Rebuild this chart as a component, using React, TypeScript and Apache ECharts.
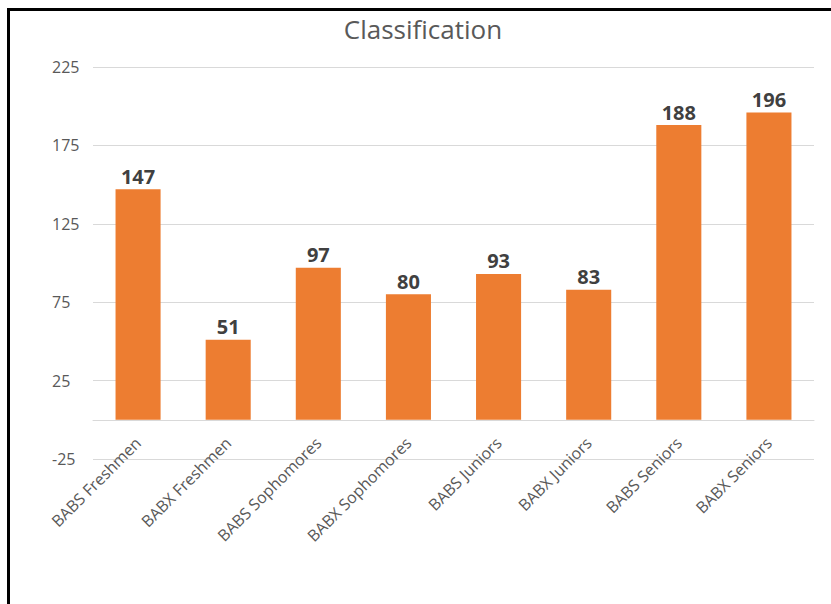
import React, { useEffect, useRef } from "react";
import * as echarts from "echarts";

const categories = [
  "BABS Freshmen",
  "BABX Freshmen",
  "BABS Sophomores",
  "BABX Sophomores",
  "BABS Juniors",
  "BABX Juniors",
  "BABS Seniors",
  "BABX Seniors",
];
const values = [147, 51, 97, 80, 93, 83, 188, 196];
const yMin = -25;
const yMax = 225;
const yInterval = 50;

export default function App() {
  const ref = useRef<HTMLDivElement>(null);
  useEffect(() => {
    if (!ref.current) return;
    const chart = echarts.init(ref.current, undefined, { renderer: "svg" });
    const font = "'Open Sans', 'Liberation Sans', sans-serif";
    chart.setOption({
      animation: false,
      backgroundColor: "#ffffff",
      title: {
        text: "Classification",
        left: 423,
        textAlign: "center",
        top: 16,
        padding: 0,
        textStyle: { fontFamily: font, fontSize: 26, fontWeight: "normal", color: "#595959" },
      },
      grid: { left: 93, right: 17, top: 67, bottom: 145, containLabel: false },
      xAxis: {
        type: "category",
        data: categories,
        offset: -39,
        axisLine: { onZero: false, lineStyle: { color: "#d9d9d9", width: 1 } },
        axisTick: { show: false },
        axisLabel: {
          rotate: 45,
          margin: 20,
          interval: 0,
          color: "#595959",
          fontFamily: font,
          fontSize: 16,
        },
      },
      yAxis: {
        type: "value",
        min: yMin,
        max: yMax,
        interval: yInterval,
        axisLine: { show: false },
        axisTick: { show: false },
        splitLine: { lineStyle: { color: "#d9d9d9", width: 1 } },
        axisLabel: {
          align: "left",
          margin: 41,
          color: "#595959",
          fontFamily: font,
          fontSize: 16,
        },
      },
      series: [
        {
          type: "bar",
          data: values,
          barWidth: "50%",
          itemStyle: { color: "#ED7D31" },
          label: {
            show: true,
            position: "top",
            distance: 3,
            color: "#404040",
            fontFamily: font,
            fontWeight: "bold",
            fontSize: 20,
          },
        },
      ],
      graphic: [
        { type: "rect", left: 7, top: 8, shape: { width: 3, height: 596 }, style: { fill: "#000" } },
        { type: "rect", left: 7, top: 8, shape: { width: 824, height: 3 }, style: { fill: "#000" } },
      ],
    });
    return () => chart.dispose();
  }, []);
  return (
    <div style={{ position: "fixed", left: 0, top: 0, width: 831, height: 604, background: "#fff" }}>
      <div ref={ref} style={{ width: 831, height: 604 }} />
    </div>
  );
}
